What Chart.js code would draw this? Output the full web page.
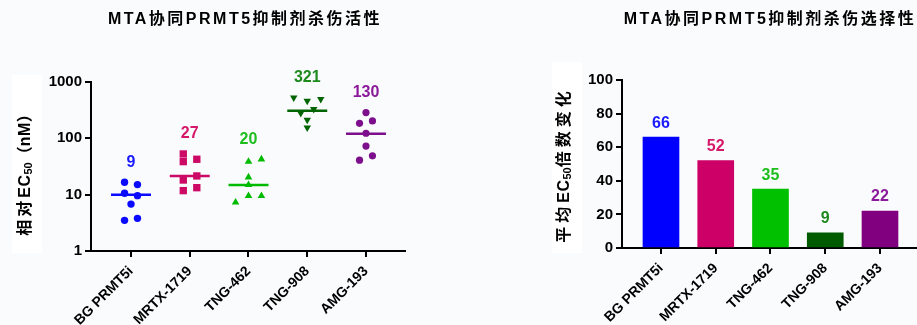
<!DOCTYPE html>
<html>
<head>
<meta charset="utf-8">
<script src="https://cdn.jsdelivr.net/npm/chart.js@4.4.1/dist/chart.umd.min.js"></script>
<style>
  html, body { margin: 0; padding: 0; background: #fafbfc; width: 917px; height: 325px; overflow: hidden; }
  canvas { position: absolute; top: 0; }
</style>
</head>
<body>
<canvas id="activity" width="460" height="325" style="left:0"></canvas>
<canvas id="selectivity" width="457" height="325" style="left:460px"></canvas>
<script>
// categorie (farmaci)
const drugs = ['BG PRMT5i', 'MRTX-1719', 'TNG-462', 'TNG-908', 'AMG-193'];

// EC50 relativi (nM), singoli punti
const ec50BG   = [16.6, 15.1, 10.6, 9.6, 6.8, 3.5, 3.8];
const ec50MRTX = [52.8, 38.6, 42.5, 18.2, 21.5, 11.8, 13.3];
const ec50T462 = [38.6, 42.5, 20.4, 14.9, 7.3, 9.5, 9.5];
const ec50T908 = [528, 462, 495, 279, 329, 212, 155];
const ec50AMG  = [286, 185, 204, 123, 73, 41, 49];
// posizione orizzontale dei punti (in unita di categoria, rispetto al centro)
const jitBG   = [-0.11, 0.11, -0.11, 0.11, 0, -0.11, 0.11];
const jitMRTX = [-0.11, -0.11, 0.12, -0.11, 0.12, -0.11, 0.12];
const jitT462 = [0, 0.22, 0, 0, -0.22, 0, 0.22];
const jitT908 = [-0.23, 0, 0.23, -0.11, 0.11, 0, 0];
const jitAMG  = [0, -0.11, 0.11, 0, 0, -0.11, 0.11];
// linea centrale e valore riportato sopra ogni gruppo
const ec50Line  = [10, 21.5, 14.9, 310, 121];
const ec50Label = [9, 27, 20, 321, 130];
const ec50Ticks = [1, 10, 100, 1000];

// variazione media di EC50 (fold)
const foldChange = [66, 52, 35, 9, 22];
const foldTicks  = [0, 20, 40, 60, 80, 100];

// stile
const pointColors = ['#0a0aff', '#cc0a66', '#00bb00', '#006400', '#7d0f8c'];
const labelColors = ['#1a1aff', '#d6186a', '#1ebe1e', '#1e8a1e', '#8a1a9a'];
const barColors   = ['#0000ff', '#cc0066', '#00c000', '#005a00', '#800080'];
const pointStyles = ['circle', 'rect', 'triangle', 'triangle', 'circle'];
const pointRot    = [0, 0, 0, 180, 0];
const pointRad    = [3.7, 5.2, 4.4, 4.3, 3.6];

const tickFont = { family: '"Liberation Sans", Arial, sans-serif', size: 15, weight: 'bold' };
const catFont  = { family: '"Liberation Sans", Arial, sans-serif', size: 14, weight: 'bold' };
const CJK = '"Liberation Sans", "Noto Sans CJK SC", sans-serif';

// testo verticale con pedice (EC50)
function drawYTitle(ctx, parts, x, y) {
  ctx.save();
  ctx.translate(x, y);
  ctx.rotate(-Math.PI / 2);
  ctx.textBaseline = 'middle';
  ctx.textAlign = 'left';
  const setFont = p => {
    ctx.font = 'bold ' + (p.sub ? 11 : 16) + 'px ' + CJK;
    ctx.letterSpacing = (p.ls || 0) + 'px';
  };
  const widths = parts.map(p => { setFont(p); return ctx.measureText(p.t).width; });
  let cx = -widths.reduce((a, b) => a + b, 0) / 2;
  parts.forEach((p, i) => {
    setFont(p);
    ctx.fillText(p.t, cx, p.sub ? 3 : 0);
    cx += widths[i];
  });
  ctx.restore();
}

const decor = {
  id: 'decor',
  beforeDraw(chart, args, o) {
    const ctx = chart.ctx;
    ctx.save();
    ctx.fillStyle = '#ffffff';
    ctx.fillRect(o.box[0], o.box[1], o.box[2], o.box[3]);
    ctx.restore();
  },
  afterDraw(chart, args, o) {
    const ctx = chart.ctx;
    ctx.save();
    ctx.fillStyle = '#000';
    ctx.font = 'bold 16px ' + CJK;
    ctx.letterSpacing = '2.5px';
    ctx.textAlign = 'center';
    ctx.textBaseline = 'middle';
    ctx.fillText(o.title, o.titleX, 20);
    ctx.restore();
    ctx.save();
    ctx.fillStyle = '#000';
    drawYTitle(ctx, o.ytitle, o.ytitleX, o.ytitleY);
    ctx.restore();

    // valori sopra i gruppi / barre
    const xs = chart.scales.x, ys = chart.scales.y;
    ctx.save();
    ctx.font = 'bold 16px "Liberation Sans", Arial, sans-serif';
    ctx.textAlign = 'center';
    ctx.textBaseline = 'middle';
    o.labels.forEach((v, i) => {
      ctx.fillStyle = labelColors[i];
      ctx.fillText(String(v), xs.getPixelForValue(i), ys.getPixelForValue(o.anchor[i]) - o.gap);
    });
    ctx.restore();
  }
};

const axisCommon = {
  border: { display: true, color: '#000', width: 2 },
  grid: { display: true, drawOnChartArea: false, drawTicks: true, tickLength: 6, color: '#000', lineWidth: 2 }
};

// ---- grafico 1: attivita (scatter, scala log) ----
const groups = [
  [ec50BG, jitBG], [ec50MRTX, jitMRTX], [ec50T462, jitT462], [ec50T908, jitT908], [ec50AMG, jitAMG]
];
const scatterSets = [];
groups.forEach(([vals, jit], i) => {
  scatterSets.push({
    data: vals.map((v, k) => ({ x: i + jit[k], y: v })),
    pointStyle: pointStyles[i],
    rotation: pointRot[i],
    pointRadius: pointRad[i],
    pointBackgroundColor: pointColors[i],
    pointBorderWidth: 0,
    showLine: false
  });
  scatterSets.push({
    data: [{ x: i - 0.34, y: ec50Line[i] }, { x: i + 0.34, y: ec50Line[i] }],
    showLine: true,
    borderColor: pointColors[i],
    borderWidth: 2.5,
    pointRadius: 0
  });
});

new Chart(document.getElementById('activity'), {
  type: 'scatter',
  data: { datasets: scatterSets },
  options: {
    responsive: false, animation: false, devicePixelRatio: 1,
    layout: { padding: { top: 82, right: 55, left: 0, bottom: 0 } },
    plugins: {
      legend: { display: false }, tooltip: { enabled: false },
      decor: {
        title: 'MTA协同PRMT5抑制剂杀伤活性', titleX: 245,
        ytitle: [{ t: '相对', ls: 3 }, { t: 'EC', ls: 0.5 }, { t: '50', sub: true, ls: 0 }, { t: '（', ls: 0 }, { t: 'nM', ls: 0.5 }, { t: '）', ls: 0 }],
        ytitleX: 26, ytitleY: 171, box: [12, 75, 30, 178],
        labels: ec50Label, anchor: groups.map(g => Math.max(...g[0])), gap: 20
      }
    },
    scales: {
      x: {
        type: 'linear', min: -0.681, max: 4.664, ...axisCommon,
        afterBuildTicks: s => { s.ticks = drugs.map((d, i) => ({ value: i })); },
        afterFit: s => { s.height = 74; },
        ticks: { color: '#000', font: catFont, minRotation: 45, maxRotation: 45, autoSkip: false, padding: 6,
                 callback: v => drugs[v] }
      },
      y: {
        type: 'logarithmic', min: 1, max: 1000, ...axisCommon,
        afterBuildTicks: s => { s.ticks = ec50Ticks.map(v => ({ value: v })); },
        afterFit: s => { s.width = 91; },
        ticks: { color: '#000', font: tickFont, padding: 3, callback: v => String(v) }
      }
    }
  },
  plugins: [decor]
});

// ---- grafico 2: selettivita (barre) ----
new Chart(document.getElementById('selectivity'), {
  type: 'bar',
  data: {
    datasets: [{
      data: foldChange.map((v, i) => ({ x: i, y: v })),
      backgroundColor: barColors,
      barThickness: 36,
      borderWidth: 0
    }]
  },
  options: {
    responsive: false, animation: false, devicePixelRatio: 1,
    layout: { padding: { top: 80, right: 0, left: 0, bottom: 0 } },
    plugins: {
      legend: { display: false }, tooltip: { enabled: false },
      decor: {
        title: 'MTA协同PRMT5抑制剂杀伤选择性', titleX: 310,
        ytitle: [{ t: '平均', ls: 4 }, { t: 'EC', ls: 0.5 }, { t: '50', sub: true, ls: 0 }, { t: '倍数变化', ls: 4 }],
        ytitleX: 105, ytitleY: 165, box: [92, 62, 30, 191],
        labels: foldChange, anchor: foldChange, gap: 14
      }
    },
    scales: {
      x: {
        type: 'linear', min: -0.712, max: 4.676, offset: false, ...axisCommon,
        grid: { ...axisCommon.grid, offset: false },
        afterBuildTicks: s => { s.ticks = drugs.map((d, i) => ({ value: i })); },
        afterFit: s => { s.height = 77; },
        ticks: { color: '#000', font: catFont, minRotation: 45, maxRotation: 45, autoSkip: false, padding: 6,
                 callback: v => drugs[v] }
      },
      y: {
        min: 0, max: 100, ...axisCommon,
        afterBuildTicks: s => { s.ticks = foldTicks.map(v => ({ value: v })); },
        afterFit: s => { s.width = 162; },
        ticks: { color: '#000', font: tickFont, padding: 3 }
      }
    }
  },
  plugins: [decor]
});
</script>
</body>
</html>
